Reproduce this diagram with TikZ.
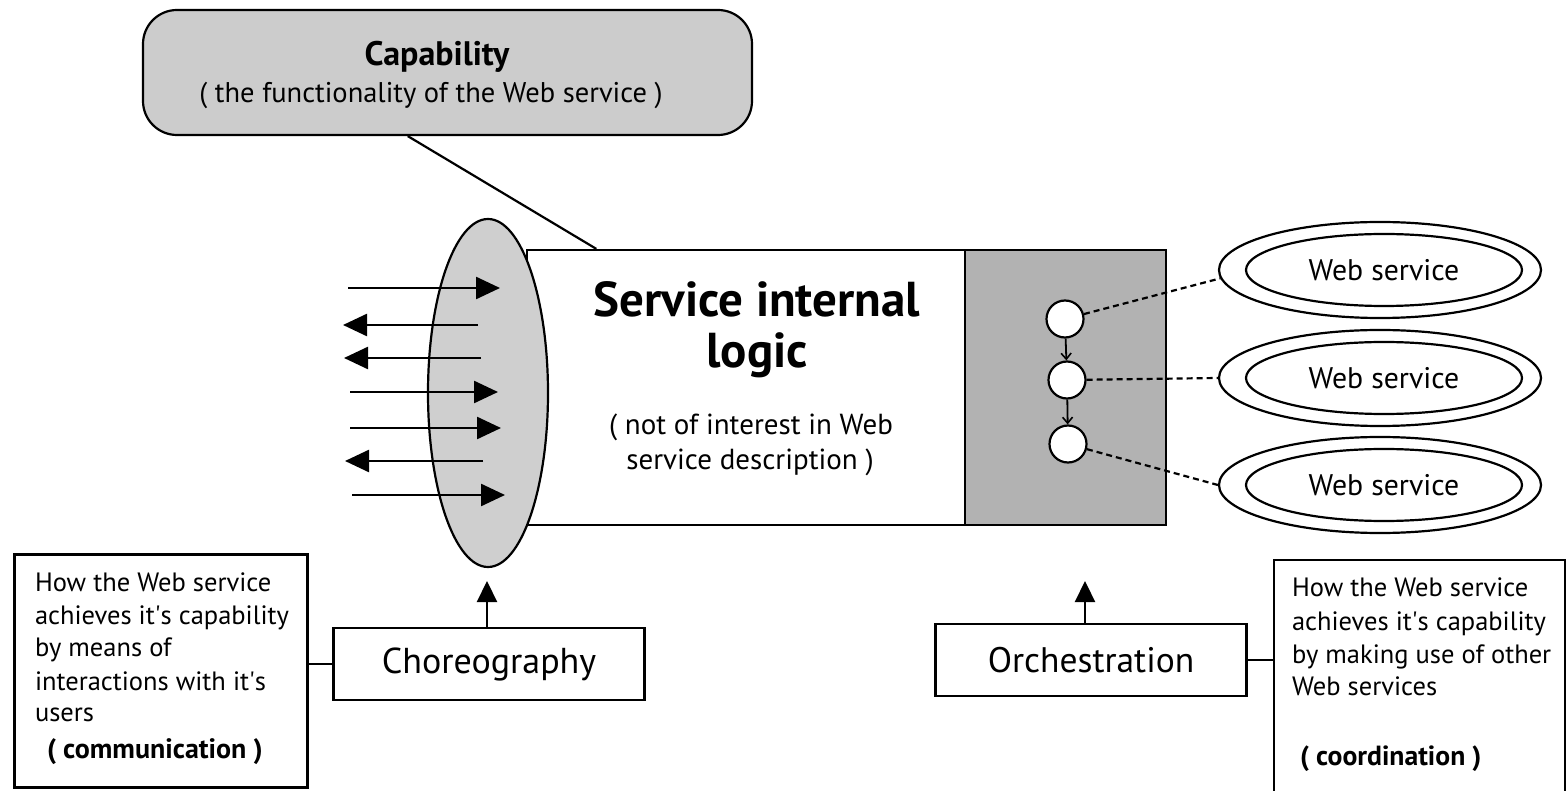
\documentclass[tikz,border=0pt]{standalone}
\usepackage{fontspec}
\setmainfont{PT Sans}
\usetikzlibrary{arrows.meta,shapes.geometric,calc}

\newcommand{\apos}{\textquotesingle}

\tikzset{
  outline/.style={draw=black,line width=2.2pt},
  txt/.style={inner sep=0pt,outer sep=0pt},
  desc/.style={txt,anchor=base west,font=\fontsize{26.5}{30}\selectfont},
  bigarrow/.style={line width=2.5pt,-{Triangle[length=24pt,width=22pt]}},
  uparrow/.style={line width=2.2pt,-{Triangle[length=21pt,width=20pt]}},
  smallarrow/.style={line width=1.8pt,-{Straight Barb[length=6pt,width=10pt,line width=1.6pt]}},
  dashlink/.style={line width=2.2pt,dash pattern=on 6pt off 4pt},
  labelbox/.style={outline,fill=white,minimum width=311pt,minimum height=72pt,inner sep=0pt},
  wsouter/.style={outline,ellipse,fill=white,minimum width=322pt,minimum height=96pt,inner sep=0pt},
  wsinner/.style={outline,ellipse,fill=white,minimum width=276pt,minimum height=72pt,inner sep=0pt,
                  font=\fontsize{29.8}{32}\selectfont},
  step circle/.style={outline,circle,fill=white,minimum size=37pt,inner sep=0pt},
}

\begin{document}
\begin{tikzpicture}[x=1pt,y=-1pt]
\useasboundingbox (0,0) rectangle (1567,791);

% capability callout
\node[outline,fill=black!20,rounded corners=34pt,minimum width=609pt,minimum height=125pt,inner sep=0pt]
  (cap) at (447.5,72.5) {};
\node[txt,anchor=base,font=\fontsize{34}{38}\selectfont\bfseries] (capT) at (437,66) {Capability};
\node[txt,anchor=base,font=\fontsize{28.5}{32}\selectfont] (capS) at (431,103) {( the functionality of the Web service )};

% service body: internal logic and orchestration part
\node[outline,fill=white,minimum width=438pt,minimum height=275pt,inner sep=0pt] (logic) at (746,387.5) {};
\node[outline,fill=black!30,minimum width=201pt,minimum height=275pt,inner sep=0pt] (orchpart) at (1065.5,387.5) {};
\draw[outline] ($(cap.south west)!0.435!(cap.south east)$) -- ($(logic.north west)!0.16!(logic.north east)$);

\node[txt,anchor=base,font=\fontsize{49}{52}\selectfont\bfseries] (title1) at (757,317) {Service internal};
\node[txt,anchor=base,font=\fontsize{49}{52}\selectfont\bfseries] (title2) at (757,368) {logic};
\node[txt,anchor=base,font=\fontsize{29}{32}\selectfont] (sub1) at (751,435) {( not of interest in Web};
\node[txt,anchor=base,font=\fontsize{29}{32}\selectfont] (sub2) at (750,470) {service description )};

% choreography interface
\node[outline,ellipse,fill=black!19,minimum width=120pt,minimum height=348pt,inner sep=0pt] (iface) at (488,393) {};
\foreach \yy/\xs/\xe [count=\k] in {288/348/500, 325/478/343, 358/481/344, 392/350/498, 428/350/501, 461/483/345, 495/352/505} {
  \coordinate (m\k s) at (\xs,\yy);
  \coordinate (m\k e) at (\xe,\yy);
  \draw[bigarrow] (m\k s) -- (m\k e);
}

% orchestration steps
\node[step circle] (c1) at (1065,319) {};
\node[step circle] (c2) at (1067,380) {};
\node[step circle] (c3) at (1068,444) {};
\draw[smallarrow] (c1) -- (c2);
\draw[smallarrow] (c2) -- (c3);

% partner web services
\foreach \yy [count=\k] in {270,378,485} {
  \node[wsouter] (ws\k o) at (1380,\yy) {};
  \node[wsinner] (ws\k) at (1384,\yy) {Web service};
}
\draw[dashlink] (c1) -- (ws1o.183);
\draw[dashlink] (c2) -- (ws2o.west);
\draw[dashlink] (c3) -- (ws3o.west);

% choreography label and description
\node[labelbox,font=\fontsize{36}{40}\selectfont] (choreo) at (489,664) {Choreography};
\coordinate (choreoTip) at (487,581);
\draw[uparrow] (choreo.north -| choreoTip) -- (choreoTip);
\node[outline,fill=white,minimum width=293pt,minimum height=233pt,inner sep=0pt] (descL) at (161,671) {};
\draw[outline] (choreo.west) -- (choreo.west -| descL.east);
\foreach \txt/\yy [count=\k] in {How the Web service/591, achieves it\apos s capability/624, by means of/656,
    interactions with it\apos s/690, users/721} {
  \node[desc] (dl\k) at (35,\yy) {\txt};
}
\node[desc,font=\fontsize{28}{32}\selectfont\bfseries] (dl6) at (47,758) {( communication )};

% orchestration label and description
\node[labelbox,font=\fontsize{35.5}{40}\selectfont] (orchestr) at (1091,660) {Orchestration};
\coordinate (orchTip) at (1085,581);
\draw[uparrow] (orchestr.north -| orchTip) -- (orchTip);
\node[outline,fill=white,minimum width=291pt,minimum height=240pt,inner sep=0pt] (descR) at (1419.5,680) {};
\draw[outline] (orchestr.east) -- (orchestr.east -| descR.west);
\foreach \txt/\yy [count=\k] in {How the Web service/596, achieves it\apos s capability/630, by making use of other/663,
    Web services/695} {
  \node[desc] (dr\k) at (1292,\yy) {\txt};
}
\node[desc,font=\fontsize{27.7}{32}\selectfont\bfseries] (dr5) at (1300,765) {( coordination )};
\end{tikzpicture}
\end{document}
